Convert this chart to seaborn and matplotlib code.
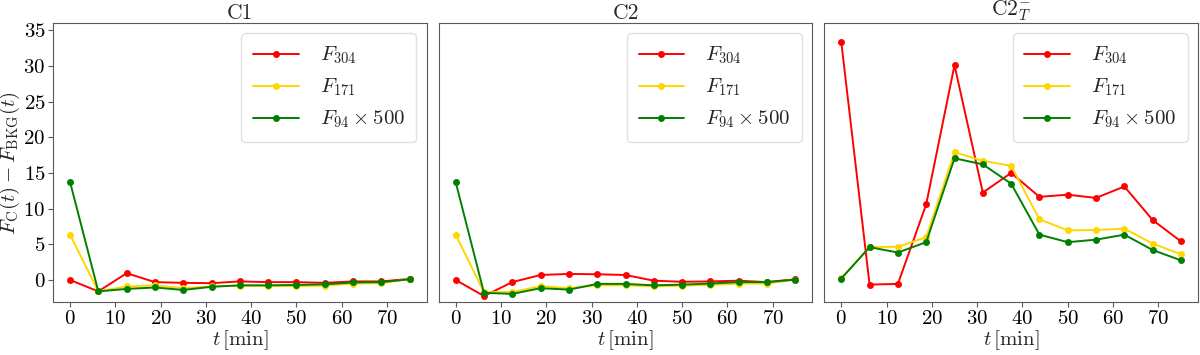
import pandas as pd
import matplotlib.pyplot as plt
import seaborn as sns

# time axis (minutes)
t_min = [0, 6.25, 12.5, 18.75, 25, 31.25, 37.5, 43.75, 50, 56.25, 62.5, 68.75, 75]

# C1
c1_f304 = [0.0, -1.6, 0.95, -0.3, -0.4, -0.45, -0.2, -0.3, -0.3, -0.4, -0.2, -0.2, 0.15]
c1_f171 = [6.35, -1.6, -0.9, -0.75, -1.15, -0.9, -0.8, -0.85, -0.85, -0.8, -0.5, -0.45, 0.15]
c1_f94 = [13.75, -1.6, -1.25, -1.05, -1.4, -0.95, -0.75, -0.75, -0.7, -0.6, -0.35, -0.3, 0.1]

# C2
c2_f304 = [0.0, -2.25, -0.3, 0.7, 0.85, 0.8, 0.7, -0.1, -0.25, -0.2, -0.1, -0.3, 0.1]
c2_f171 = [6.35, -1.7, -1.7, -0.85, -1.15, -0.75, -0.75, -0.9, -0.8, -0.7, -0.5, -0.5, 0.05]
c2_f94 = [13.75, -1.8, -1.95, -1.15, -1.35, -0.55, -0.55, -0.75, -0.65, -0.5, -0.3, -0.3, 0.05]

# C2_T^-
c2t_f304 = [33.35, -0.65, -0.55, 10.6, 30.1, 12.25, 15.0, 11.65, 11.95, 11.5, 13.1, 8.4, 5.4]
c2t_f171 = [0.25, 4.6, 4.65, 6.0, 17.9, 16.7, 16.0, 8.5, 6.95, 7.0, 7.2, 5.1, 3.6]
c2t_f94 = [0.2, 4.6, 3.85, 5.3, 17.05, 16.2, 13.5, 6.35, 5.3, 5.65, 6.35, 4.2, 2.75]

titles = ['C1', 'C2', r'C2$^{-}_{T}$']
labels = [r'$F_{304}$', r'$F_{171}$', r'$F_{94}\times 500$']
colors = ['red', 'gold', 'green']

panels = [
    [c1_f304, c1_f171, c1_f94],
    [c2_f304, c2_f171, c2_f94],
    [c2t_f304, c2t_f171, c2t_f94],
]

sns.set_style('ticks')
plt.rcParams['font.family'] = 'serif'
plt.rcParams['font.serif'] = ['cmr10', 'DejaVu Serif']
plt.rcParams['mathtext.fontset'] = 'cm'
plt.rcParams['axes.formatter.use_mathtext'] = True
plt.rcParams['axes.edgecolor'] = '0.35'
plt.rcParams['xtick.color'] = '0.35'
plt.rcParams['ytick.color'] = '0.35'
plt.rcParams['xtick.labelcolor'] = 'black'
plt.rcParams['ytick.labelcolor'] = 'black'

fig, axes = plt.subplots(1, 3, figsize=(12, 3.55), dpi=100, sharey=True)
fig.subplots_adjust(left=0.0442, right=0.9983, bottom=0.149, top=0.935, wspace=0.032)

for i, ax in enumerate(axes):
    for vals, lab, col in zip(panels[i], labels, colors):
        df = pd.DataFrame({'t': t_min, 'flux': vals})
        sns.lineplot(data=df, x='t', y='flux', ax=ax, color=col, marker='o',
                     markersize=5, markeredgecolor=col, markeredgewidth=0,
                     linewidth=1.4, label=lab)
    ax.set_title(titles[i], fontsize=15.5, pad=3)
    ax.set_xlabel(r'$t\,[{\rm min}]$', fontsize=15, labelpad=0)
    ax.set_xticks([0, 10, 20, 30, 40, 50, 60, 70])
    ax.tick_params(labelsize=15, length=3.5, width=0.8, pad=2)
    ax.set_xlim(-3.75, 78.75)
    ax.legend(loc='upper right', fontsize=15, handlelength=2.2, handletextpad=1.0,
              labelspacing=0.5, borderpad=0.55, framealpha=0.8, edgecolor='0.85')
    if i > 0:
        ax.set_ylabel('')
        ax.tick_params(axis='y', left=False, labelleft=False)

axes[0].set_ylim(-3.1, 36.0)
axes[0].set_yticks([0, 5, 10, 15, 20, 25, 30, 35])
axes[0].set_ylabel(r'$F_{\rm C}(t) - F_{\rm BKG}(t)$', fontsize=15, labelpad=1)

fig.savefig('out.png', dpi=100)
